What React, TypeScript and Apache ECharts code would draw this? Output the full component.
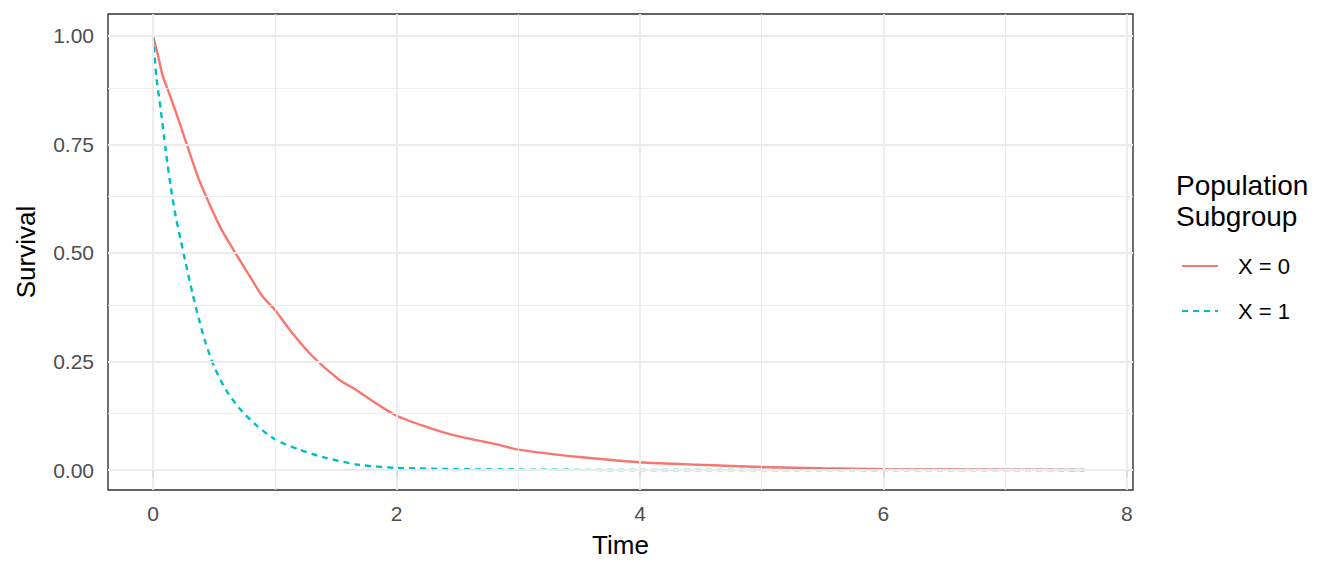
import React, { useEffect, useRef } from "react";
import * as echarts from "echarts";

// Kaplan-Meier style survival curves
const redTimes = [0, 0.04, 0.077, 0.137, 0.214, 0.296, 0.378, 0.46, 0.556, 0.652, 0.762, 0.899, 1.0, 1.145, 1.31, 1.529, 1.666, 1.83, 2.0, 2.24, 2.46, 2.84, 3.0, 3.5, 4.0, 4.5, 5.0, 5.5, 6.0, 7.0, 7.65];
const redSurv = [1, 0.955, 0.91, 0.864, 0.803, 0.734, 0.668, 0.615, 0.557, 0.511, 0.461, 0.4, 0.369, 0.315, 0.262, 0.208, 0.185, 0.154, 0.125, 0.1, 0.081, 0.058, 0.047, 0.03, 0.018, 0.012, 0.007, 0.004, 0.002, 0.001, 0.0];

const blueTimes = [0, 0.027, 0.063, 0.09, 0.118, 0.145, 0.186, 0.227, 0.268, 0.323, 0.378, 0.433, 0.501, 0.597, 0.707, 0.844, 1.008, 1.2, 1.419, 1.693, 2.0, 2.5, 3.0, 4.0, 5.0, 6.0, 7.0, 7.65];
const blueSurv = [1, 0.906, 0.83, 0.768, 0.707, 0.653, 0.584, 0.53, 0.477, 0.408, 0.346, 0.292, 0.239, 0.185, 0.143, 0.104, 0.07, 0.047, 0.028, 0.012, 0.005, 0.002, 0.001, 0, 0, 0, 0, 0];

const seriesNames = ["X = 0", "X = 1"];
const xTicks = [0, 2, 4, 6, 8];
const xMinor = [1, 3, 5, 7];
const yTicks = [0, 0.25, 0.5, 0.75, 1];
const yMinor = [0.125, 0.375, 0.625, 0.875];

const FONT = "Liberation Sans, Arial, sans-serif";

const App: React.FC = () => {
    const chartRef = useRef<HTMLDivElement>(null);

    useEffect(() => {
        if (!chartRef.current) return;
        const chart = echarts.init(chartRef.current, null, { renderer: "svg" });

        const majorLine = { color: "#EBEBEB", width: 1.8, type: "solid" };
        const minorLine = { color: "#EBEBEB", width: 0.9, type: "solid" };
        const gridLines = [
            ...xMinor.map(v => ({ xAxis: v, lineStyle: minorLine })),
            ...yMinor.map(v => ({ yAxis: v, lineStyle: minorLine })),
            ...xTicks.map(v => ({ xAxis: v, lineStyle: majorLine })),
            ...yTicks.map(v => ({ yAxis: v, lineStyle: majorLine })),
        ];

        chart.setOption({
            animation: false,
            textStyle: { fontFamily: FONT },
            grid: {
                left: 108, right: 211, top: 14, bottom: 86,
                show: true, borderColor: "#333333", borderWidth: 1.4, backgroundColor: "transparent",
            },
            xAxis: {
                type: "value",
                min: -0.37,
                max: 8.05,
                name: "Time",
                nameLocation: "middle",
                nameGap: 42,
                nameTextStyle: { fontSize: 26, color: "#000", fontFamily: FONT },
                axisLine: { show: false },
                splitLine: { show: false },
                axisTick: { show: true, length: 7, customValues: xTicks, lineStyle: { color: "#333", width: 1.6 } },
                axisLabel: { customValues: xTicks, fontSize: 21, color: "#4D4D4D", margin: 13, fontFamily: FONT },
            },
            yAxis: {
                type: "value",
                min: -0.046,
                max: 1.05,
                name: "Survival",
                nameLocation: "middle",
                nameRotate: 90,
                nameGap: 69,
                nameTextStyle: { fontSize: 26, color: "#000", fontFamily: FONT },
                axisLine: { show: false },
                splitLine: { show: false },
                axisTick: { show: true, length: 7, customValues: yTicks, lineStyle: { color: "#333", width: 1.6 } },
                axisLabel: {
                    customValues: yTicks, fontSize: 21, color: "#4D4D4D", margin: 14, fontFamily: FONT,
                    formatter: (v: number) => v.toFixed(2),
                },
            },
            legend: {
                data: seriesNames,
                orient: "vertical",
                left: 1181,
                top: 255,
                padding: 0,
                itemWidth: 36,
                itemHeight: 24,
                itemGap: 23,
                itemStyle: { opacity: 0 },
                textStyle: { fontSize: 22, color: "#000", fontFamily: FONT, padding: [0, 0, 0, 15] },
            },
            graphic: [
                {
                    type: "text",
                    left: 1176,
                    top: 170,
                    style: {
                        text: "Population\nSubgroup",
                        font: `28px ${FONT}`,
                        lineHeight: 31,
                        fill: "#000",
                    },
                },
            ],
            series: [
                {
                    name: "grid",
                    type: "line",
                    data: [],
                    z: 1,
                    silent: true,
                    markLine: { silent: true, symbol: "none", label: { show: false }, data: gridLines },
                },
                {
                    name: seriesNames[0],
                    type: "line",
                    z: 3,
                    symbol: "none",
                    smooth: 0.25,
                    color: "#F8766D",
                    lineStyle: { color: "#F8766D", width: 2.4 },
                    data: redTimes.map((t, i) => [t, redSurv[i]]),
                },
                {
                    name: seriesNames[1],
                    type: "line",
                    z: 3,
                    symbol: "none",
                    smooth: 0.25,
                    color: "#00BFC4",
                    lineStyle: { color: "#00BFC4", width: 2.4, type: [6, 5] },
                    data: blueTimes.map((t, i) => [t, blueSurv[i]]),
                },
            ],
        });

        return () => {
            chart.dispose();
        };
    }, []);

    return (
        <div style={{ position: "fixed", left: 0, top: 0, width: 1344, height: 576, background: "#fff" }}>
            <div ref={chartRef} style={{ width: "100%", height: "100%" }} />
        </div>
    );
};

export default App;
